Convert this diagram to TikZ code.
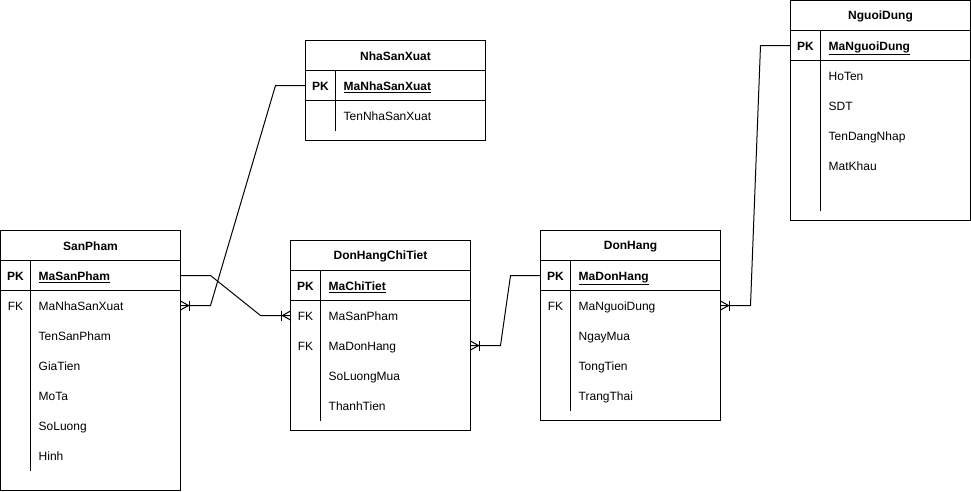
\documentclass[tikz,border=0pt]{standalone}
\usepackage{fontspec}
\setmainfont{Liberation Sans}
\usetikzlibrary{calc}
\tikzset{
  every picture/.style={x=1pt, y=-1pt},
  tbl/.style={draw, line width=1pt, minimum width=180pt, anchor=north west, inner sep=0pt, outer sep=0pt},
  rowbox/.style={minimum width=180pt, minimum height=30pt, inner sep=0pt, outer sep=0pt},
  headtxt/.style={font=\fontsize{12}{14}\selectfont\bfseries, inner sep=0pt},
  keytxt/.style={font=\fontsize{12}{14}\selectfont, anchor=base, inner sep=0pt},
  pkkeytxt/.style={font=\fontsize{12}{14}\selectfont\bfseries, anchor=base, inner sep=0pt},
  fieldtxt/.style={font=\fontsize{12}{14}\selectfont, anchor=base west, inner sep=0pt},
  pkfieldtxt/.style={font=\fontsize{12}{14}\selectfont\bfseries, anchor=base west, inner sep=0pt},
  ln/.style={line width=1pt},
  conn/.style={line width=1pt},
  crowfoot/.pic={\draw[line width=1pt] (0,-4.5) -- (8,0) -- (0,4.5); \draw[line width=1pt] (9,-5) -- (9,5);}
}
% #1 name, #2 x, #3 y, #4 height, #5 title, #6 divider end y
\newcommand{\ERhead}[6]{%
  \node[tbl, minimum height=#4pt] (#1) at (#2,#3) {};
  \node[headtxt] (#1-title) at ({#2+90},{#3+15.8}) {#5};
  \draw[ln] (#2,{#3+30}) -- ({#2+180},{#3+30});
  \draw[ln] ({#2+180},{#3+60}) -- (#2,{#3+60});
  \draw[ln] ({#2+30},{#3+30}) -- ({#2+30},#6);
}
% #1 name, #2 x, #3 row top y, #4 field
\newcommand{\ERpk}[4]{%
  \node[rowbox] (#1) at ({#2+90},{#3+15}) {};
  \node[pkkeytxt] (#1-key) at ({#2+15},{#3+20}) {PK};
  \node[pkfieldtxt] (#1-txt) at ({#2+38},{#3+20}) {\underline{#4}};
}
% #1 name, #2 x, #3 row top y, #4 key, #5 field
\newcommand{\ERrow}[5]{%
  \node[rowbox] (#1) at ({#2+90},{#3+15}) {};
  \node[keytxt] (#1-key) at ({#2+15},{#3+20}) {#4};
  \node[fieldtxt] (#1-txt) at ({#2+38},{#3+20}) {#5};
}
\begin{document}
\begin{tikzpicture}
\fill[white] (-0.5,-0.5) rectangle (970.5,490.5);
\useasboundingbox (-0.5,-0.5) rectangle (970.5,490.5);

% SanPham
\ERhead{sp}{0}{230}{260}{SanPham}{470}
\ERpk{sp-pk}{0}{260}{MaSanPham}
\ERrow{sp-fk}{0}{290}{FK}{MaNhaSanXuat}
\ERrow{sp-r3}{0}{320}{}{TenSanPham}
\ERrow{sp-r4}{0}{350}{}{GiaTien}
\ERrow{sp-r5}{0}{380}{}{MoTa}
\ERrow{sp-r6}{0}{410}{}{SoLuong}
\ERrow{sp-r7}{0}{440}{}{Hinh}

% NhaSanXuat
\ERhead{nsx}{305}{40}{100}{NhaSanXuat}{130}
\ERpk{nsx-pk}{305}{70}{MaNhaSanXuat}
\ERrow{nsx-r2}{305}{100}{}{TenNhaSanXuat}

% DonHangChiTiet
\ERhead{dct}{290}{240}{190}{DonHangChiTiet}{420}
\ERpk{dct-pk}{290}{270}{MaChiTiet}
\ERrow{dct-fk1}{290}{300}{FK}{MaSanPham}
\ERrow{dct-fk2}{290}{330}{FK}{MaDonHang}
\ERrow{dct-r4}{290}{360}{}{SoLuongMua}
\ERrow{dct-r5}{290}{390}{}{ThanhTien}

% DonHang
\ERhead{dh}{540}{230}{190}{DonHang}{410}
\ERpk{dh-pk}{540}{260}{MaDonHang}
\ERrow{dh-fk}{540}{290}{FK}{MaNguoiDung}
\ERrow{dh-r3}{540}{320}{}{NgayMua}
\ERrow{dh-r4}{540}{350}{}{TongTien}
\ERrow{dh-r5}{540}{380}{}{TrangThai}

% NguoiDung
\ERhead{nd}{790}{0}{220}{NguoiDung}{210}
\ERpk{nd-pk}{790}{30}{MaNguoiDung}
\ERrow{nd-r2}{790}{60}{}{HoTen}
\ERrow{nd-r3}{790}{90}{}{SDT}
\ERrow{nd-r4}{790}{120}{}{TenDangNhap}
\ERrow{nd-r5}{790}{150}{}{MatKhau}
\ERrow{nd-r6}{790}{180}{}{}

% Connectors
\draw[conn] (nsx-pk.west) -- ++(-30,0) -- ($(sp-fk.east)+(30,0)$) -- (sp-fk.east);
\pic at (sp-fk.east) {crowfoot};

\draw[conn] (sp-pk.east) -- ++(30,0) -- ($(dct-fk1.west)+(-30,0)$) -- (dct-fk1.west);
\pic[xscale=-1] at (dct-fk1.west) {crowfoot};

\draw[conn] (dh-pk.west) -- ++(-30,0) -- ($(dct-fk2.east)+(30,0)$) -- (dct-fk2.east);
\pic at (dct-fk2.east) {crowfoot};

\draw[conn] (nd-pk.west) -- ++(-30,0) -- ($(dh-fk.east)+(30,0)$) -- (dh-fk.east);
\pic at (dh-fk.east) {crowfoot};
\end{tikzpicture}
\end{document}
